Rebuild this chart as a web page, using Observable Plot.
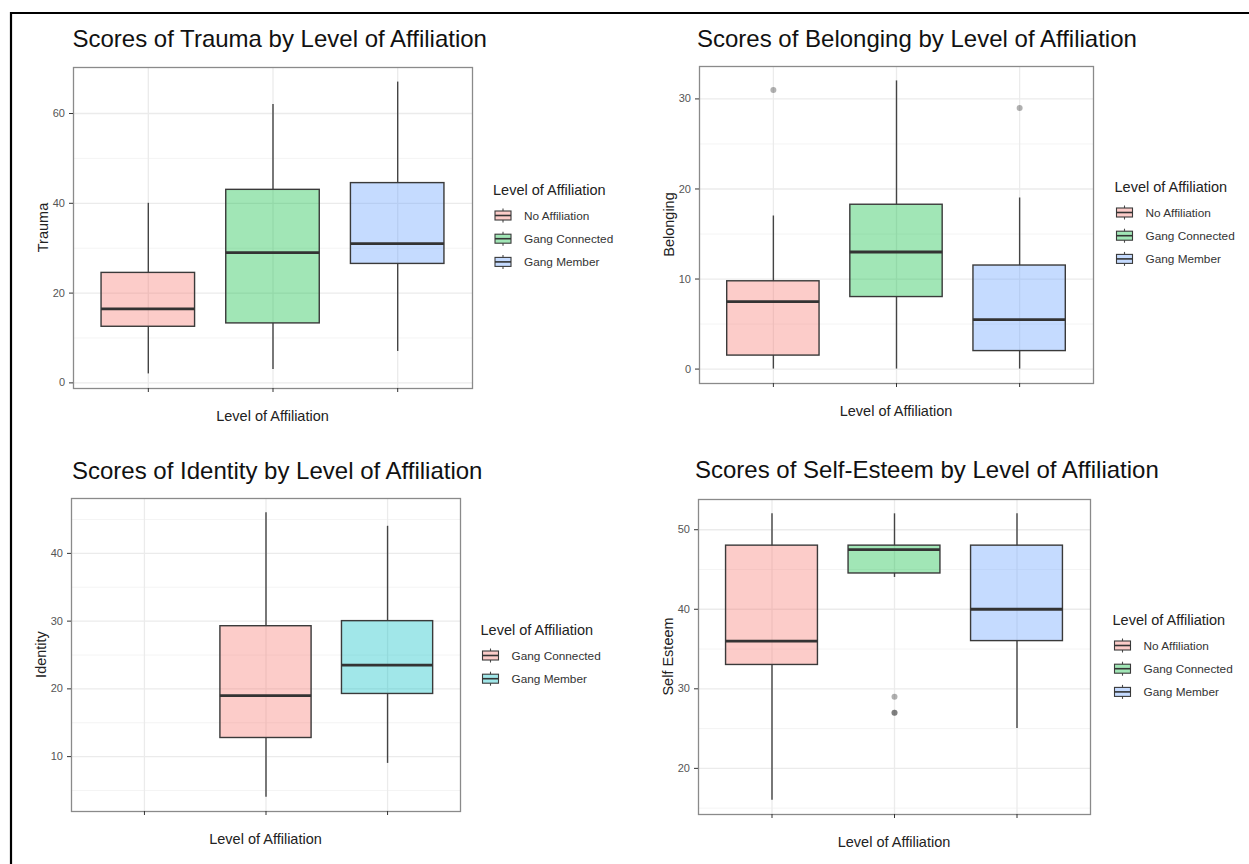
<!DOCTYPE html>
<html><head><meta charset="utf-8">
<script src="https://cdn.jsdelivr.net/npm/d3@7"></script>
<script src="https://cdn.jsdelivr.net/npm/@observablehq/plot@0.6"></script>
<style>
html,body{margin:0;padding:0;background:#fff;}
#root{position:relative;width:1249px;height:864px;overflow:hidden;font-family:"Liberation Sans",Arial,Helvetica,sans-serif;background:#fff;}
.panel{position:absolute;}
#overlay{position:absolute;left:0;top:0;pointer-events:none;}
</style></head><body><div id="root"></div>
<script>
// ---------- data ----------
const groups = ["No Affiliation", "Gang Connected", "Gang Member"];
const groupColors = ["#F8766D", "#00BA38", "#619CFF"];
const identityGroups = ["Gang Connected", "Gang Member"];
const identityColors = ["#F8766D", "#00BFC4"];
const legendTitle = "Level of Affiliation";
const xTitle = "Level of Affiliation";

const titles = [
  "Scores of Trauma by Level of Affiliation",
  "Scores of Belonging by Level of Affiliation",
  "Scores of Identity by Level of Affiliation",
  "Scores of Self-Esteem by Level of Affiliation"
];
const yTitles = ["Trauma", "Belonging", "Identity", "Self Esteem"];

// Trauma (No Affiliation, Gang Connected, Gang Member)
const traumaLow = [2, 3, 7];
const traumaQ1 = [12.5, 13.25, 26.5];
const traumaMedian = [16.5, 29, 31];
const traumaQ3 = [24.5, 43, 44.5];
const traumaHigh = [40, 62, 67];
const traumaOutlierGroups = [];
const traumaOutlierValues = [];
const traumaTicks = [0, 20, 40, 60];
const traumaMinor = [10, 30, 50];

// Belonging
const belongingLow = [0, 0, 0];
const belongingQ1 = [1.5, 8, 2];
const belongingMedian = [7.5, 13, 5.5];
const belongingQ3 = [9.75, 18.25, 11.5];
const belongingHigh = [17, 32, 19];
const belongingOutlierGroups = ["No Affiliation", "Gang Member"];
const belongingOutlierValues = [31, 29];
const belongingTicks = [0, 10, 20, 30];
const belongingMinor = [5, 15, 25];

// Identity (Gang Connected, Gang Member)
const identityLow = [4, 9];
const identityQ1 = [12.75, 19.25];
const identityMedian = [19, 23.5];
const identityQ3 = [29.25, 30];
const identityHigh = [46, 44];
const identityOutlierGroups = [];
const identityOutlierValues = [];
const identityTicks = [10, 20, 30, 40];
const identityMinor = [5, 15, 25, 35, 45];

// Self-Esteem
const esteemLow = [16, 44, 25];
const esteemQ1 = [33, 44.5, 36];
const esteemMedian = [36, 47.5, 40];
const esteemQ3 = [48, 48, 48];
const esteemHigh = [52, 52, 52];
const esteemOutlierGroups = ["Gang Connected", "Gang Connected", "Gang Connected"];
const esteemOutlierValues = [29, 27, 27];
const esteemTicks = [20, 30, 40, 50];
const esteemMinor = [15, 25, 35, 45];

// ---------- build tables ----------
function statsTable(g, low, q1, med, q3, high) {
  return g.map((group, i) => ({group, low: low[i], q1: q1[i], median: med[i], q3: q3[i], high: high[i]}));
}
function outlierTable(g, v) { return g.map((group, i) => ({group, value: v[i]})); }

const charts = [
  {stats: statsTable(groups, traumaLow, traumaQ1, traumaMedian, traumaQ3, traumaHigh),
   outliers: outlierTable(traumaOutlierGroups, traumaOutlierValues),
   legend: groups, colors: groupColors, ticks: traumaTicks, minor: traumaMinor},
  {stats: statsTable(groups, belongingLow, belongingQ1, belongingMedian, belongingQ3, belongingHigh),
   outliers: outlierTable(belongingOutlierGroups, belongingOutlierValues),
   legend: groups, colors: groupColors, ticks: belongingTicks, minor: belongingMinor},
  {stats: statsTable(identityGroups, identityLow, identityQ1, identityMedian, identityQ3, identityHigh),
   outliers: outlierTable(identityOutlierGroups, identityOutlierValues),
   legend: identityGroups, colors: identityColors, ticks: identityTicks, minor: identityMinor},
  {stats: statsTable(groups, esteemLow, esteemQ1, esteemMedian, esteemQ3, esteemHigh),
   outliers: outlierTable(esteemOutlierGroups, esteemOutlierValues),
   legend: groups, colors: groupColors, ticks: esteemTicks, minor: esteemMinor}
];

// ---------- layout ----------
const layout = [
  {rect: [73, 67, 472, 388], titleX: 72.5, titleY: 47, legendX: 493, legendY: 195},
  {rect: [699, 66, 1093, 383], titleX: 697, titleY: 47, legendX: 1114.5, legendY: 192},
  {rect: [71, 498, 460, 811], titleX: 72, titleY: 479, legendX: 480.5, legendY: 635},
  {rect: [698, 499, 1090, 814], titleX: 695, titleY: 478, legendX: 1112.5, legendY: 625}
];

const FONT = '"Liberation Sans", Arial, Helvetica, sans-serif';
const FILL_OPACITY = 0.37;
const root = document.getElementById("root");

charts.forEach((c, i) => {
  const [L, T, R, B] = layout[i].rect;
  const mL = 45, mR = 6, mT = 6, mB = 14;
  const vals = [];
  c.stats.forEach(d => vals.push(d.low, d.high));
  c.outliers.forEach(d => vals.push(d.value));
  const [lo, hi] = d3.extent(vals);
  const pad = (hi - lo) * 0.05;
  const svg = Plot.plot({
    width: R - L + mL + mR,
    height: B - T + mT + mB,
    marginLeft: mL, marginRight: mR, marginTop: mT, marginBottom: mB,
    style: {fontFamily: FONT, fontSize: "11px", color: "#555", background: "none", overflow: "visible"},
    x: {domain: groups, type: "band", paddingInner: 0.25, paddingOuter: 0.225, round: false},
    y: {domain: [lo - pad, hi + pad]},
    color: {domain: c.legend, range: c.colors},
    marks: [
      Plot.gridY(c.minor, {stroke: "#f3f3f3", strokeOpacity: 1, strokeWidth: 0.9}),
      Plot.gridY(c.ticks, {stroke: "#ebebeb", strokeOpacity: 1, strokeWidth: 1.3}),
      Plot.ruleX(groups, {x: d => d, stroke: "#ebebeb", strokeWidth: 1.3}),
      Plot.ruleX(c.stats, {x: "group", y1: "low", y2: "q1", stroke: "#444", strokeWidth: 1.4}),
      Plot.ruleX(c.stats, {x: "group", y1: "q3", y2: "high", stroke: "#444", strokeWidth: 1.4}),
      Plot.barY(c.stats, {x: "group", y1: "q1", y2: "q3", fill: "group", fillOpacity: FILL_OPACITY, stroke: "#3a3a3a", strokeWidth: 1.4}),
      Plot.tickY(c.stats, {x: "group", y: "median", stroke: "#333", strokeWidth: 2.8}),
      Plot.dot(c.outliers, {x: "group", y: "value", r: 3, fill: "#333", fillOpacity: 0.38, stroke: "none"}),
      Plot.frame({stroke: "#8a8a8a", strokeWidth: 1.3}),
      Plot.axisY(c.ticks, {tickSize: 4, tickPadding: 4.5, fontSize: 11, label: null, stroke: "#333"}),
      Plot.axisX({tickSize: 4, tickFormat: () => "", label: null, stroke: "#333"})
    ]
  });
  const wrap = document.createElement("div");
  wrap.className = "panel";
  wrap.style.left = (L - mL) + "px";
  wrap.style.top = (T - mT) + "px";
  wrap.append(svg);
  root.append(wrap);
});

// ---------- overlay: frame line, titles, axis titles, legends ----------
const ov = d3.select(root).append("svg").attr("id", "overlay")
  .attr("width", 1249).attr("height", 864).style("font-family", FONT);

ov.append("line").attr("x1", 10).attr("x2", 1249).attr("y1", 13).attr("y2", 13).attr("stroke", "#000").attr("stroke-width", 2.2);
ov.append("line").attr("x1", 11).attr("x2", 11).attr("y1", 12).attr("y2", 864).attr("stroke", "#000").attr("stroke-width", 2.2);

charts.forEach((c, i) => {
  const lay = layout[i];
  const [L, T, R, B] = lay.rect;
  ov.append("text").attr("x", lay.titleX).attr("y", lay.titleY)
    .attr("font-size", 24).attr("fill", "#111").text(titles[i]);
  ov.append("text").attr("x", (L + R) / 2).attr("y", B + 33).attr("text-anchor", "middle")
    .attr("font-size", 14.5).attr("fill", "#222").text(xTitle);
  ov.append("text").attr("transform", `translate(${L - 25.5},${(T + B) / 2}) rotate(-90)`)
    .attr("text-anchor", "middle").attr("font-size", 14.5).attr("fill", "#222").text(yTitles[i]);
  // legend
  const g = ov.append("g");
  g.append("text").attr("x", lay.legendX).attr("y", lay.legendY).attr("font-size", 14.5).attr("fill", "#222").text(legendTitle);
  c.legend.forEach((name, k) => {
    const cy = lay.legendY + 20.5 + k * 23.2;
    const kx = lay.legendX + 2;
    const kw = 16, kh = 9;
    g.append("line").attr("x1", kx + kw / 2).attr("x2", kx + kw / 2).attr("y1", cy - 7).attr("y2", cy + 7)
      .attr("stroke", "#4a4a4a").attr("stroke-width", 1.1);
    g.append("rect").attr("x", kx).attr("y", cy - kh / 2).attr("width", kw).attr("height", kh)
      .attr("fill", "#fff");
    g.append("rect").attr("x", kx).attr("y", cy - kh / 2).attr("width", kw).attr("height", kh)
      .attr("fill", c.colors[k]).attr("fill-opacity", FILL_OPACITY).attr("stroke", "#3a3a3a").attr("stroke-width", 1.1);
    g.append("line").attr("x1", kx).attr("x2", kx + kw).attr("y1", cy).attr("y2", cy)
      .attr("stroke", "#333").attr("stroke-width", 1.6);
    g.append("text").attr("x", lay.legendX + 31).attr("y", cy).attr("dy", "0.35em")
      .attr("font-size", 11.8).attr("fill", "#333").text(name);
  });
});
</script></body></html>
